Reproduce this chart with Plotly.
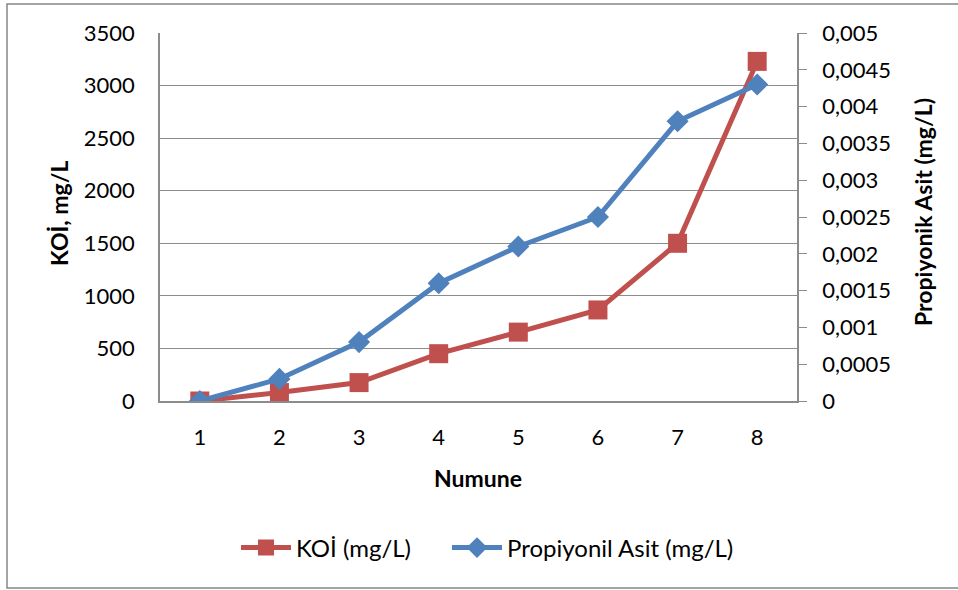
import plotly.graph_objects as go

# Sample numbers and the two measured series
numune = ["1", "2", "3", "4", "5", "6", "7", "8"]
koi_mg_l = [0, 80, 175, 450, 655, 866, 1500, 3230]
propiyonik_mg_l = [0, 0.0003, 0.0008, 0.0016, 0.0021, 0.0025, 0.0038, 0.0043]

left_ticks = [0, 500, 1000, 1500, 2000, 2500, 3000, 3500]
right_ticks = [0, 0.0005, 0.001, 0.0015, 0.002, 0.0025, 0.003, 0.0035, 0.004, 0.0045, 0.005]

RED = "#C0504D"
BLUE = "#4F81BD"
GRID = "#8C8C8C"
FONT = "Lato"
TICK_SIZE = 22
TITLE_SIZE = 23
LEGEND_SIZE = 24

W, H = 958, 590
L, R, T, B = 160, 161, 33, 189
PW, PH = W - L - R, H - T - B


def px(x):
    return (x - L) / PW


def py(y):
    return (H - B - y) / PH


def comma(v):
    s = f"{v:.4f}".rstrip("0").rstrip(".")
    return s.replace(".", ",") if s else "0"


fig = go.Figure()
fig.add_trace(go.Scatter(
    x=numune, y=koi_mg_l, name="KOİ (mg/L)", mode="lines+markers",
    line=dict(color=RED, width=5),
    marker=dict(symbol="square", size=19, color=RED),
    yaxis="y", legend="legend",
))
fig.add_trace(go.Scatter(
    x=numune, y=propiyonik_mg_l, name="Propiyonil Asit (mg/L)", mode="lines+markers",
    line=dict(color=BLUE, width=5),
    marker=dict(symbol="diamond", size=17, color=BLUE),
    yaxis="y2", legend="legend2",
))

legend_common = dict(
    orientation="h", xanchor="left", y=py(548), yanchor="middle",
    font=dict(family=FONT, size=LEGEND_SIZE), itemwidth=50,
    bgcolor="rgba(0,0,0,0)",
)

fig.update_layout(
    width=W, height=H,
    margin=dict(l=L, r=R, t=T, b=B, pad=0),
    paper_bgcolor="white", plot_bgcolor="white",
    font=dict(family=FONT, size=TICK_SIZE, color="black"),
    showlegend=True,
    legend=dict(x=px(236), **legend_common),
    legend2=dict(x=px(447), **legend_common),
    xaxis=dict(
        type="category", range=[-0.5, 7.5], showgrid=False,
        showline=True, linecolor=GRID, linewidth=1.5,
        ticks="", ticklabelstandoff=16, tickfont=dict(size=TICK_SIZE),
        zeroline=False,
    ),
    yaxis=dict(
        range=[0, 3500], tickvals=left_ticks, ticktext=[str(v) for v in left_ticks],
        showgrid=True, gridcolor=GRID, gridwidth=1.4,
        showline=True, linecolor=GRID, linewidth=1.5,
        ticks="", ticklabelstandoff=19, tickfont=dict(size=TICK_SIZE),
        zeroline=False,
    ),
    yaxis2=dict(
        overlaying="y", side="right", range=[0, 0.005],
        tickvals=right_ticks, ticktext=[comma(v) for v in right_ticks],
        showgrid=False, showline=True, linecolor=GRID, linewidth=1.5,
        ticks="outside", ticklen=8, tickcolor=GRID, tickwidth=1.4,
        ticklabelstandoff=11, tickfont=dict(size=TICK_SIZE),
        zeroline=False,
    ),
    annotations=[
        dict(text="<b>KOİ, mg/L</b>", x=px(59), y=py(213), xref="paper", yref="paper",
             xanchor="center", yanchor="middle",
             textangle=-90, showarrow=False, font=dict(size=TITLE_SIZE)),
        dict(text="<b>Propiyonik Asit (mg/L)</b>", x=px(923), y=py(212), xref="paper", yref="paper",
             xanchor="center", yanchor="middle",
             textangle=-90, showarrow=False, font=dict(size=TITLE_SIZE)),
        dict(text="<b>Numune</b>", x=px(478), y=py(478), xref="paper", yref="paper",
             xanchor="center", yanchor="middle",
             showarrow=False, font=dict(size=TITLE_SIZE)),
    ],
    shapes=[
        dict(type="rect", xref="paper", yref="paper",
             x0=px(7), x1=px(962), y0=py(588), y1=py(4),
             line=dict(color="#868686", width=1.5), fillcolor="rgba(0,0,0,0)", layer="below"),
    ],
)

fig.write_html("out.html")
